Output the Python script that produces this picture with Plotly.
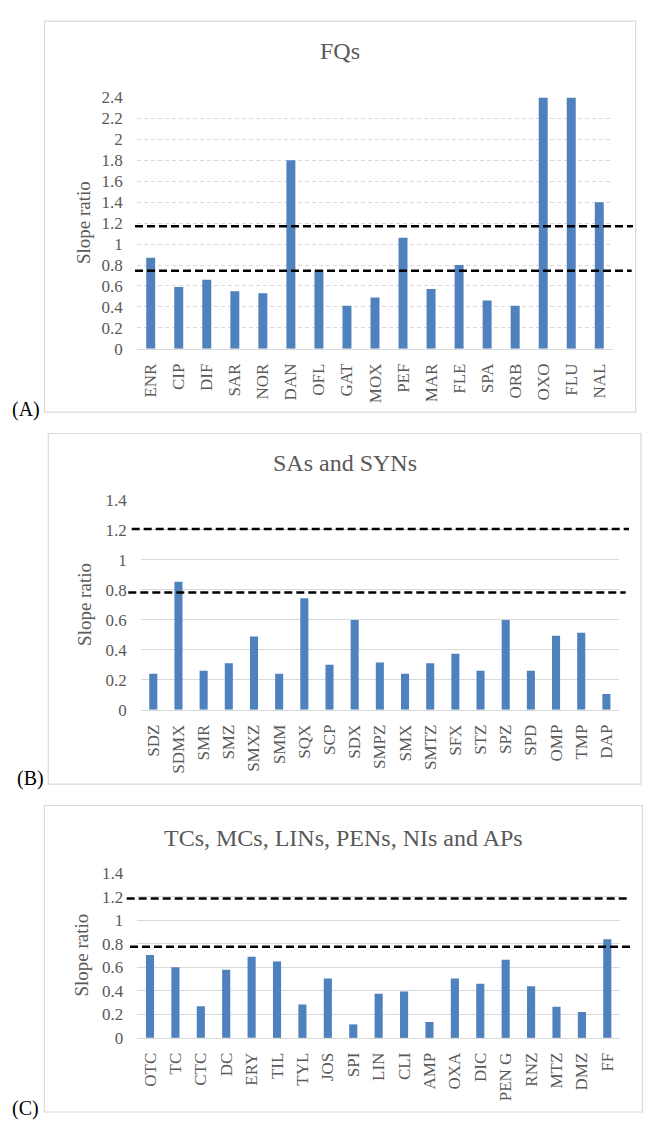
import plotly.graph_objects as go

W, H = 655, 1141

# ---------------- data ----------------
fq_labels = ["ENR", "CIP", "DIF", "SAR", "NOR", "DAN", "OFL", "GAT", "MOX", "PEF",
             "MAR", "FLE", "SPA", "ORB", "OXO", "FLU", "NAL"]
fq_values = [0.87, 0.59, 0.66, 0.55, 0.53, 1.80, 0.75, 0.41, 0.49, 1.06,
             0.57, 0.80, 0.46, 0.41, 2.40, 2.40, 1.40]
fq_limits = [0.745, 1.17]

sa_labels = ["SDZ", "SDMX", "SMR", "SMZ", "SMXZ", "SMM", "SQX", "SCP", "SDX", "SMPZ",
             "SMX", "SMTZ", "SFX", "STZ", "SPZ", "SPD", "OMP", "TMP", "DAP"]
sa_values = [0.24, 0.855, 0.26, 0.31, 0.49, 0.24, 0.745, 0.30, 0.60, 0.315,
             0.24, 0.31, 0.375, 0.26, 0.60, 0.26, 0.495, 0.515, 0.105]
sa_limits = [0.783, 1.207]

tc_labels = ["OTC", "TC", "CTC", "DC", "ERY", "TIL", "TYL", "JOS", "SPI", "LIN",
             "CLI", "AMP", "OXA", "DIC", "PEN G", "RNZ", "MTZ", "DMZ", "FF"]
tc_values = [0.705, 0.60, 0.27, 0.58, 0.69, 0.65, 0.285, 0.505, 0.115, 0.375,
             0.395, 0.135, 0.505, 0.46, 0.665, 0.44, 0.265, 0.22, 0.84]
tc_limits = [0.776, 1.186]

titles = ["FQs", "SAs and SYNs", "TCs, MCs, LINs, PENs, NIs and APs"]
panel_tags = ["(A)", "(B)", "(C)"]
y_title = "Slope ratio"
y_ranges = [[0, 2.4], [0, 1.4], [0, 1.4]]

# ---------------- layout (pixel geometry) ----------------
def px_x(p):
    return p / W

def px_y(p):
    return 1 - p / H

panels = [
    dict(labels=fq_labels, values=fq_values, limits=fq_limits,
         plot_x=(136.7, 613.3), plot_y=(90, 345.5), frame=(44.5, 12.3, 635.7, 410),
         title_y=43, tag=(10, 407), ytitle_x=83,
         line_x=[(135, 631.7), (135, 633)], grid_dash="4px,3px"),
    dict(labels=sa_labels, values=sa_values, limits=sa_limits,
         plot_x=(140.7, 619), plot_y=(499.3, 712.7), frame=(48.3, 431.7, 641, 788.3),
         title_y=462, tag=(15, 783), ytitle_x=85,
         line_x=[(128.3, 625.7), (131.7, 629)], grid_dash="solid"),
    dict(labels=tc_labels, values=tc_values, limits=tc_limits,
         plot_x=(137.3, 620), plot_y=(879, 1046.3), frame=(44.3, 810, 642.3, 1121.7),
         title_y=843, tag=(10, 1118), ytitle_x=82,
         line_x=[(130, 633.3), (126.7, 630)], grid_dash="solid"),
]

FONT = "Liberation Serif, Times New Roman, serif"
GRAY = "#595959"
LIGHT = "#D9D9D9"
BAR = "#4F81BD"

fig = go.Figure()
shapes = []
annotations = []
layout_axes = {}

for i, p in enumerate(panels):
    n = i + 1
    xa = "x" if n == 1 else f"x{n}"
    ya = "y" if n == 1 else f"y{n}"
    fig.add_trace(go.Bar(x=p["labels"], y=p["values"], marker_color=BAR,
                         marker_line_width=0, xaxis=xa, yaxis=ya, width=0.32,
                         showlegend=False, hoverinfo="x+y"))
    x0, x1 = p["plot_x"]
    yt, yb = p["plot_y"]
    xkey = "xaxis" if n == 1 else f"xaxis{n}"
    ykey = "yaxis" if n == 1 else f"yaxis{n}"
    layout_axes[xkey] = dict(
        domain=[px_x(x0), px_x(x1)], anchor=ya, tickangle=-90,
        tickfont=dict(family=FONT, size=17, color=GRAY),
        showgrid=False, showline=True, linecolor=LIGHT, linewidth=1,
        ticks="", ticklabelstandoff=7, fixedrange=True,
    )
    layout_axes[ykey] = dict(
        domain=[px_y(yb), px_y(yt)], anchor=xa, range=y_ranges[i], dtick=0.2,
        tickfont=dict(family=FONT, size=17, color=GRAY),
        showgrid=True, gridcolor=LIGHT, griddash=p["grid_dash"], gridwidth=1,
        zeroline=False, showline=False, ticks="", ticklabelstandoff=13,
        fixedrange=True,
    )
    # frame
    fx0, fy0, fx1, fy1 = p["frame"]
    shapes.append(dict(type="rect", xref="paper", yref="paper",
                       x0=px_x(fx0), x1=px_x(fx1), y0=px_y(fy1), y1=px_y(fy0),
                       line=dict(color=LIGHT, width=1.2), layer="below"))
    # threshold lines
    for lim, (lx0, lx1) in zip(p["limits"], p["line_x"]):
        shapes.append(dict(type="line", xref="paper", yref=ya,
                           x0=px_x(lx0), x1=px_x(lx1), y0=lim, y1=lim,
                           line=dict(color="black", width=2.5, dash="8px,4px")))
    annotations.append(dict(text=titles[i], xref="paper", yref="paper",
                            x=px_x((fx0 + fx1) / 2), y=px_y(p["title_y"]),
                            showarrow=False, xanchor="center", yanchor="middle",
                            font=dict(family=FONT, size=24, color=GRAY)))
    annotations.append(dict(text=panel_tags[i], xref="paper", yref="paper",
                            x=px_x(p["tag"][0]), y=px_y(p["tag"][1]),
                            showarrow=False, xanchor="left", yanchor="middle",
                            font=dict(family=FONT, size=20, color="black")))
    annotations.append(dict(text=y_title, xref="paper", yref="paper",
                            x=px_x(p["ytitle_x"]), y=px_y((yt + yb) / 2),
                            showarrow=False, xanchor="center", yanchor="middle",
                            textangle=-90,
                            font=dict(family=FONT, size=19, color=GRAY)))

fig.update_layout(
    width=W, height=H, margin=dict(l=0, r=0, t=0, b=0),
    paper_bgcolor="white", plot_bgcolor="white",
    shapes=shapes, annotations=annotations,
    **layout_axes,
)

fig.write_html("out.html", config={"displayModeBar": False},
               post_script="document.body.style.margin='0px';document.body.style.overflow='hidden';")
